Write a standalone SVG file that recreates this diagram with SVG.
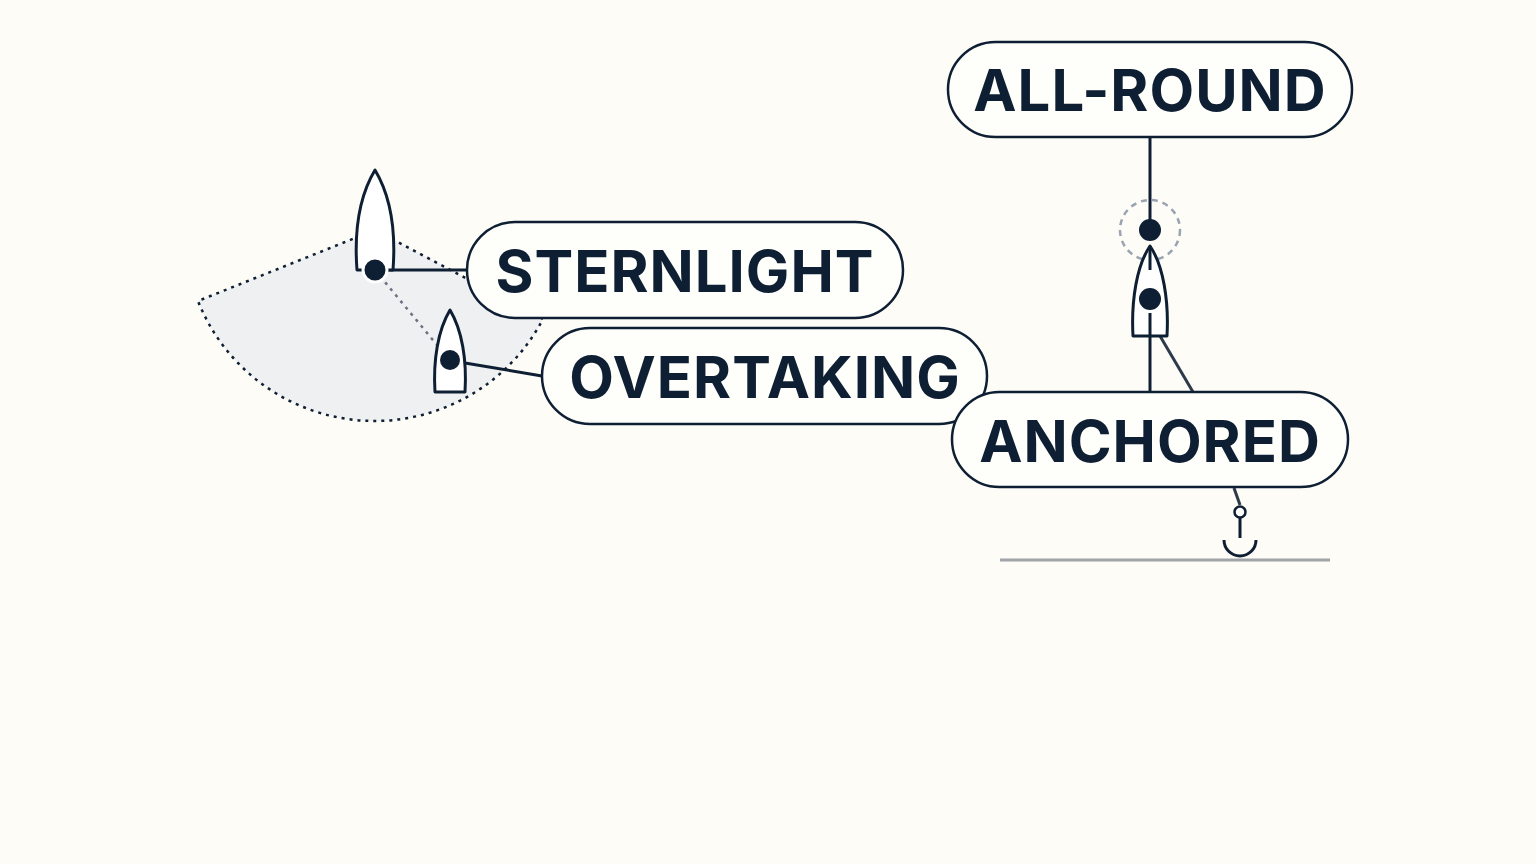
<svg xmlns="http://www.w3.org/2000/svg" width="1536" height="864" viewBox="0 0 1536 864">
<style>
.pill{fill:#fefefb;stroke:#0f1f33;stroke-width:2.5}
.lbl{font-family:Inter,"Liberation Sans",sans-serif;font-weight:700;font-size:58px;fill:#0f1f33;text-anchor:middle;letter-spacing:1px}
.boat{fill:#fff;stroke:#0f1f33;stroke-width:3;stroke-linejoin:round}
.ln{stroke:#0f1f33;stroke-width:3;fill:none}
.dot{fill:#0f1f33}
</style>
<rect width="1536" height="864" fill="#fdfcf7"/>
<path d="M375,230 L198,301 A190,190 0 0 0 543,319 Z" fill="#eef0f2" stroke="#0f1f33" stroke-width="2.5" stroke-dasharray="3,5"/>
<g id="connectors">
<line class="ln" x1="388" y1="270" x2="467" y2="270"/>
<line x1="375" y1="270" x2="437" y2="345" stroke="#6b7280" stroke-width="2.5" stroke-dasharray="3,5"/>
<line class="ln" x1="465" y1="363" x2="542" y2="376"/>
<line class="ln" x1="1150" y1="137" x2="1150" y2="230"/>
<line class="ln" x1="1150" y1="313" x2="1150" y2="392"/>
<line x1="1160" y1="336" x2="1193" y2="392" stroke="#2d3a4a" stroke-width="3"/>
<line x1="1234" y1="488" x2="1240" y2="505" stroke="#2d3a4a" stroke-width="3"/>
</g>
<g id="boat-stern">
<path class="boat" d="M375,170 C360,195 354,230 357,270 L393,270 C396,230 390,195 375,170 Z"/>
<circle class="dot" cx="375" cy="270" r="12" stroke="#fff" stroke-width="3"/>
</g>
<g id="boat-overtaking">
<path class="boat" d="M450,310 C438,330 433,360 435,392 L465,392 C467,360 462,330 450,310 Z"/>
<circle class="dot" cx="450" cy="360" r="10"/>
</g>
<g id="boat-anchored">
<circle cx="1150" cy="230" r="30" fill="none" stroke="#9aa3b2" stroke-width="2.5" stroke-dasharray="6,5"/>
<path class="boat" d="M1150,246 C1137,265 1131,300 1133,336 L1167,336 C1169,300 1163,265 1150,246 Z"/>
<line class="ln" x1="1150" y1="246" x2="1150" y2="270"/>
<line class="ln" x1="1150" y1="313" x2="1150" y2="336"/>
<circle class="dot" cx="1150" cy="230" r="11"/>
<circle class="dot" cx="1150" cy="299" r="11"/>
</g>
<g id="sternlight"><rect class="pill" x="467" y="222" width="436" height="96" rx="48"/><text class="lbl" x="685" y="292">STERNLIGHT</text></g>
<g id="overtaking"><rect class="pill" x="542" y="328" width="445" height="96" rx="48"/><text class="lbl" x="765" y="398">OVERTAKING</text></g>
<g id="allround"><rect class="pill" x="948" y="42" width="404" height="95" rx="47.5"/><text class="lbl" x="1150" y="111">ALL-ROUND</text></g>
<g id="anchored"><rect class="pill" x="952" y="392" width="396" height="95" rx="47.5"/><text class="lbl" x="1150" y="462">ANCHORED</text></g>
<g id="anchor">
<circle cx="1240" cy="512" r="5.5" fill="#fff" stroke="#0f1f33" stroke-width="2.5"/>
<line class="ln" x1="1240" y1="518" x2="1240" y2="538"/>
<path class="ln" d="M1224,540 A16,16 0 0 0 1256,540"/>
</g>
<line x1="1000" y1="560" x2="1330" y2="560" stroke="#a0a4a8" stroke-width="3"/>
</svg>
